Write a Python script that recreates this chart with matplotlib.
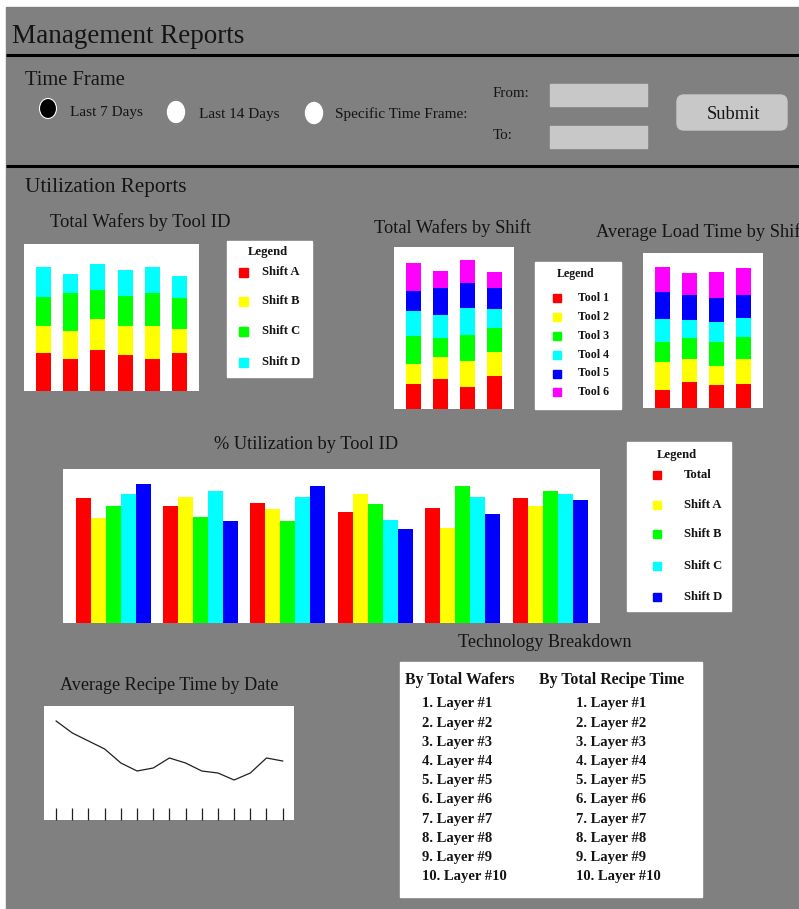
import matplotlib.pyplot as plt
from matplotlib.patches import Rectangle, Ellipse, FancyBboxPatch

plt.rcParams['font.family'] = ['Liberation Serif', 'DejaVu Serif']

W, H = 799, 909
GREY = '#808080'
INK = '#141414'
FIELD = '#c8c8c8'

shift_names = ['Shift A', 'Shift B', 'Shift C', 'Shift D']
tool_names = ['Tool 1', 'Tool 2', 'Tool 3', 'Tool 4', 'Tool 5', 'Tool 6']
util_names = ['Total', 'Shift A', 'Shift B', 'Shift C', 'Shift D']
shift_colors = ['#ff0000', '#ffff00', '#00ff00', '#00ffff']
tool_colors = ['#ff0000', '#ffff00', '#00ff00', '#00ffff', '#0000ff', '#ff00ff']
util_colors = ['#ff0000', '#ffff00', '#00ff00', '#00ffff', '#0000ff']

# total wafers per tool, stacked by shift
wafers_shift_a = [38, 32, 41, 36, 32, 38]
wafers_shift_b = [27, 28, 31, 29, 33, 24]
wafers_shift_c = [29, 38, 29, 30, 33, 31]
wafers_shift_d = [30, 19, 26, 26, 26, 22]

# total wafers per shift, stacked by tool
shift_wafers_tool1 = [25, 30, 22, 33]
shift_wafers_tool2 = [20, 22, 26, 24]
shift_wafers_tool3 = [28, 19, 26, 24]
shift_wafers_tool4 = [25, 23, 27, 19]
shift_wafers_tool5 = [20, 27, 25, 21]
shift_wafers_tool6 = [28, 17, 23, 16]

# average load time per shift, stacked by tool
load_tool1 = [18, 26, 23, 24]
load_tool2 = [28, 23, 19, 25]
load_tool3 = [20, 21, 24, 22]
load_tool4 = [23, 18, 20, 19]
load_tool5 = [27, 25, 24, 23]
load_tool6 = [25, 22, 26, 27]

# % utilization per tool
util_total = [81, 76, 78, 72, 75, 81]
util_shift_a = [68, 82, 74, 84, 62, 76]
util_shift_b = [76, 69, 66, 77, 89, 86]
util_shift_c = [84, 86, 82, 67, 82, 84]
util_shift_d = [90, 66, 89, 61, 71, 80]

# average recipe time per day
recipe_time = [99, 87, 79, 71, 57, 49, 52, 62, 57, 49, 47, 40, 47, 62, 59]

layers_by_wafers = ['1. Layer #1', '2. Layer #2', '3. Layer #3', '4. Layer #4', '5. Layer #5',
                    '6. Layer #6', '7. Layer #7', '8. Layer #8', '9. Layer #9', '10. Layer #10']
layers_by_recipe = ['1. Layer #1', '2. Layer #2', '3. Layer #3', '4. Layer #4', '5. Layer #5',
                    '6. Layer #6', '7. Layer #7', '8. Layer #8', '9. Layer #9', '10. Layer #10']


fig = plt.figure(figsize=(W / 100, H / 100), dpi=100)

# page in pixel coordinates
page = fig.add_axes([0, 0, 1, 1])
page.set_xlim(0, W)
page.set_ylim(H, 0)
page.axis('off')
page.add_patch(Rectangle((6, 7), W - 6, H - 7, color=GREY, zorder=0))
for y in (55, 166):
    page.plot([6, W], [y, y], color='black', lw=2.2, solid_capstyle='butt')


def px_axes(x0, y0, x1, y1):
    ax = fig.add_axes([x0 / W, 1 - y1 / H, (x1 - x0) / W, (y1 - y0) / H])
    ax.set_facecolor('white')
    for s in ax.spines.values():
        s.set_visible(False)
    ax.set_xticks([])
    ax.set_yticks([])
    return ax


def text(x, y, s, size, **kw):
    kw.setdefault('va', 'baseline')
    kw.setdefault('color', INK)
    page.text(x, y, s, fontsize=size, **kw)


def legend_box(x0, y0, x1, y1, head_y, names, colors, sw_x, sw_ys, lab_x, sw, size):
    page.add_patch(Rectangle((x0, y0), x1 - x0, y1 - y0, color='white'))
    text((x0 + x1) / 2 - 2, head_y, 'Legend', size, weight='bold', ha='center', va='center')
    for name, c, y in zip(names, colors, sw_ys):
        page.add_patch(Rectangle((sw_x - sw / 2, y - sw / 2), sw, sw, color=c))
        text(lab_x, y, name, size, weight='bold', va='center')


def stacked(ax, layers, colors, top):
    n = len(layers[0])
    bottom = [0] * n
    for vals, c in zip(layers, colors):
        ax.bar(range(n), vals, 0.55, bottom=bottom, color=c)
        bottom = [b + v for b, v in zip(bottom, vals)]
    ax.set_xlim(-0.717, n - 1 + 0.717)
    ax.set_ylim(0, top)


# header and time frame controls
text(12, 43, 'Management Reports', 19.5)
text(25, 85, 'Time Frame', 14.8)
page.add_patch(Ellipse((48, 108.5), 17, 20, facecolor='black', edgecolor='white', lw=0.8))
page.add_patch(Ellipse((176, 112), 17, 21, color='white'))
page.add_patch(Ellipse((314, 113), 17, 21, color='white'))
text(70, 116, 'Last 7 Days', 11)
text(199, 118, 'Last 14 Days', 11)
text(335, 118, 'Specific Time Frame:', 11)
text(493, 97, 'From:', 10.8)
text(493, 139, 'To:', 10.8)
page.add_patch(Rectangle((550, 84), 97, 22, color=FIELD))
page.add_patch(Rectangle((550, 126), 97, 22, color=FIELD))
page.add_patch(FancyBboxPatch((682, 100), 100, 25, boxstyle='round,pad=5,rounding_size=7',
                              color=FIELD))
text(733, 119, 'Submit', 13.2, ha='center')

text(25, 192, 'Utilization Reports', 15.2)

# total wafers by tool id
text(140, 227, 'Total Wafers by Tool ID', 13.4, ha='center')
ax1 = px_axes(24, 244, 199, 391)
stacked(ax1, [wafers_shift_a, wafers_shift_b, wafers_shift_c, wafers_shift_d], shift_colors, 147)
legend_box(227, 241, 312, 377, 252, shift_names, shift_colors, 243,
           [272, 301.5, 331.5, 362], 262, 9, 9.1)

# total wafers by shift
text(452, 233, 'Total Wafers by Shift', 13.2, ha='center')
ax2 = px_axes(394, 247, 514, 409)
stacked(ax2, [shift_wafers_tool1, shift_wafers_tool2, shift_wafers_tool3,
              shift_wafers_tool4, shift_wafers_tool5, shift_wafers_tool6], tool_colors, 162)
legend_box(535, 262, 621, 409, 274, tool_names, tool_colors, 557,
           [298, 317, 336, 355, 373.5, 392], 578, 8, 8.6)

# average load time by shift
text(596, 237, 'Average Load Time by Shift', 13.2)
ax3 = px_axes(643, 253, 763, 408)
stacked(ax3, [load_tool1, load_tool2, load_tool3, load_tool4, load_tool5, load_tool6],
        tool_colors, 155)

# % utilization by tool id
text(306, 449, '% Utilization by Tool ID', 13.2, ha='center')
ax4 = px_axes(63, 469, 600, 623)
bw = 15 / 87.4
for j, (vals, c) in enumerate(zip([util_total, util_shift_a, util_shift_b, util_shift_c,
                                   util_shift_d], util_colors)):
    ax4.bar([i + (j - 2) * bw for i in range(len(vals))], vals, bw, color=c)
ax4.set_xlim(-0.574, 5.57)
ax4.set_ylim(0, 100)
legend_box(627, 442, 731, 611, 455, util_names, util_colors, 657,
           [475, 505, 534, 566, 597], 684, 8, 9.1)

# average recipe time by date
text(169, 690, 'Average Recipe Time by Date', 13.1, ha='center')
ax5 = px_axes(44, 706, 294, 820)
ax5.plot(range(len(recipe_time)), recipe_time, color='#202020', lw=0.9)
ax5.set_xlim(-0.75, len(recipe_time) - 1 + 0.7)
ax5.set_ylim(0, 114)
ax5.set_xticks(range(len(recipe_time)))
ax5.tick_params(axis='x', direction='in', length=8.5, width=0.9, color='#202020',
                labelbottom=False)

# technology breakdown table
text(545, 647, 'Technology Breakdown', 13.1, ha='center')
page.add_patch(Rectangle((400, 662), 302, 235, color='white'))
text(405, 684, 'By Total Wafers', 11.4, weight='bold')
text(539, 684, 'By Total Recipe Time', 11.4, weight='bold')
for k, (a, b) in enumerate(zip(layers_by_wafers, layers_by_recipe)):
    y = 707.5 + k * 19.2
    text(421.5, y, a, 10.5, weight='bold')
    text(576.5, y, b, 10.5, weight='bold')

fig.savefig('out.png', dpi=100)
